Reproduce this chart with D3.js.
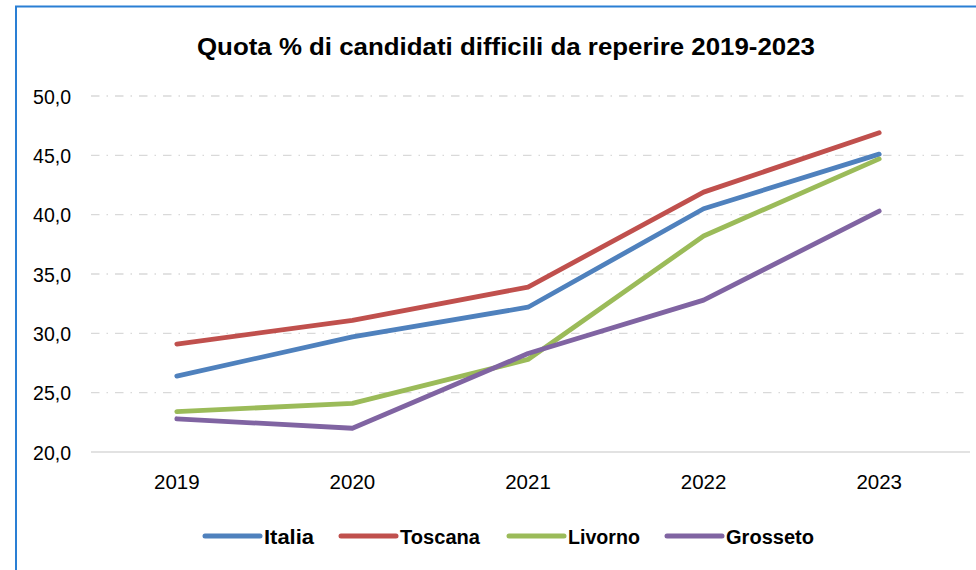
<!DOCTYPE html>
<html>
<head>
<meta charset="utf-8">
<script src="https://cdn.jsdelivr.net/npm/d3@7"></script>
<style>
  html, body { margin: 0; padding: 0; background: #ffffff; }
  svg { display: block; }
</style>
</head>
<body>
<svg id="chart" width="976" height="570"></svg>
<script>
// ---- data ----
const years = ["2019", "2020", "2021", "2022", "2023"];
const seriesNames = ["Italia", "Toscana", "Livorno", "Grosseto"];
const italia   = [26.4, 29.7, 32.2, 40.5, 45.1];
const toscana  = [29.1, 31.1, 33.9, 41.9, 46.9];
const livorno  = [23.4, 24.1, 27.8, 38.2, 44.7];
const grosseto = [22.8, 22.0, 28.3, 32.8, 40.3];
const yTicks = [20, 25, 30, 35, 40, 45, 50];
const title = "Quota % di candidati difficili da reperire 2019-2023";

const seriesValues = [italia, toscana, livorno, grosseto];
const colors = ["#4F81BD", "#C0504D", "#9BBB59", "#8064A2"];

const svg = d3.select("#chart");
const font = "'Liberation Sans', Arial, sans-serif";

// frame
svg.append("rect")
  .attr("x", 16).attr("y", 6.5)
  .attr("width", 1000).attr("height", 600)
  .attr("fill", "#ffffff")
  .attr("stroke", "#2a7fd4")
  .attr("stroke-width", 2);

// title
svg.append("text")
  .attr("x", 506).attr("y", 55)
  .attr("text-anchor", "middle")
  .attr("font-family", font)
  .attr("font-weight", "bold")
  .attr("font-size", 24.5)
  .attr("fill", "#000")
  .attr("textLength", 618)
  .attr("lengthAdjust", "spacingAndGlyphs")
  .text(title);

const plotLeft = 89, plotRight = 967, plotTop = 96, plotBottom = 452;

const x = d3.scaleBand().domain(years).range([plotLeft, plotRight]);
const y = d3.scaleLinear().domain([20, 50]).range([plotBottom, plotTop]);

// gridlines (dash-dot)
svg.append("g")
  .selectAll("line")
  .data(yTicks.filter(t => t !== 20))
  .join("line")
  .attr("x1", plotLeft + 2).attr("x2", plotRight + 3)
  .attr("y1", d => y(d)).attr("y2", d => y(d))
  .attr("stroke", "#D9D9D9")
  .attr("stroke-width", 1.4)
  .attr("stroke-dasharray", "8.5,7,1.5,7");

// baseline
svg.append("line")
  .attr("x1", plotLeft + 2).attr("x2", plotRight + 3)
  .attr("y1", y(20)).attr("y2", y(20))
  .attr("stroke", "#D9D9D9")
  .attr("stroke-width", 1.6);

// y axis labels
const yAxis = d3.axisLeft(y)
  .tickValues(yTicks)
  .tickSize(0)
  .tickPadding(0)
  .tickFormat(d => d3.format(".1f")(d).replace(".", ","));
const yg = svg.append("g").attr("transform", `translate(71,0)`).call(yAxis);
yg.select(".domain").remove();
yg.selectAll("text")
  .attr("font-family", font)
  .attr("font-size", 19.5)
  .attr("fill", "#000")
  .attr("dy", "0.36em");

// x axis labels
const xAxis = d3.axisBottom(x).tickSize(0).tickPadding(0);
const xg = svg.append("g").attr("transform", `translate(0,${plotBottom})`).call(xAxis);
xg.select(".domain").remove();
xg.selectAll("text")
  .attr("font-family", font)
  .attr("font-size", 20.5)
  .attr("fill", "#000")
  .attr("dy", 0)
  .attr("y", 37);

// lines
const line = d3.line()
  .x((d, i) => x(years[i]) + x.bandwidth() / 2)
  .y(d => y(d));

svg.append("g")
  .selectAll("path")
  .data(seriesValues)
  .join("path")
  .attr("d", d => line(d))
  .attr("fill", "none")
  .attr("stroke", (d, i) => colors[i])
  .attr("stroke-width", 4.8)
  .attr("stroke-linejoin", "round")
  .attr("stroke-linecap", "round");

// legend
const legendStarts = [205, 341, 509, 667];
const legendTextWidths = [50, 80, 72, 88];
const lg = svg.append("g");
seriesNames.forEach((name, i) => {
  const x0 = legendStarts[i];
  lg.append("line")
    .attr("x1", x0).attr("x2", x0 + 55)
    .attr("y1", 536).attr("y2", 536)
    .attr("stroke", colors[i])
    .attr("stroke-width", 5)
    .attr("stroke-linecap", "round");
  lg.append("text")
    .attr("x", x0 + 59).attr("y", 543.5)
    .attr("font-family", font)
    .attr("font-weight", "bold")
    .attr("font-size", 20)
    .attr("fill", "#000")
    .attr("textLength", legendTextWidths[i])
    .attr("lengthAdjust", "spacingAndGlyphs")
    .text(name);
});
</script>
</body>
</html>
